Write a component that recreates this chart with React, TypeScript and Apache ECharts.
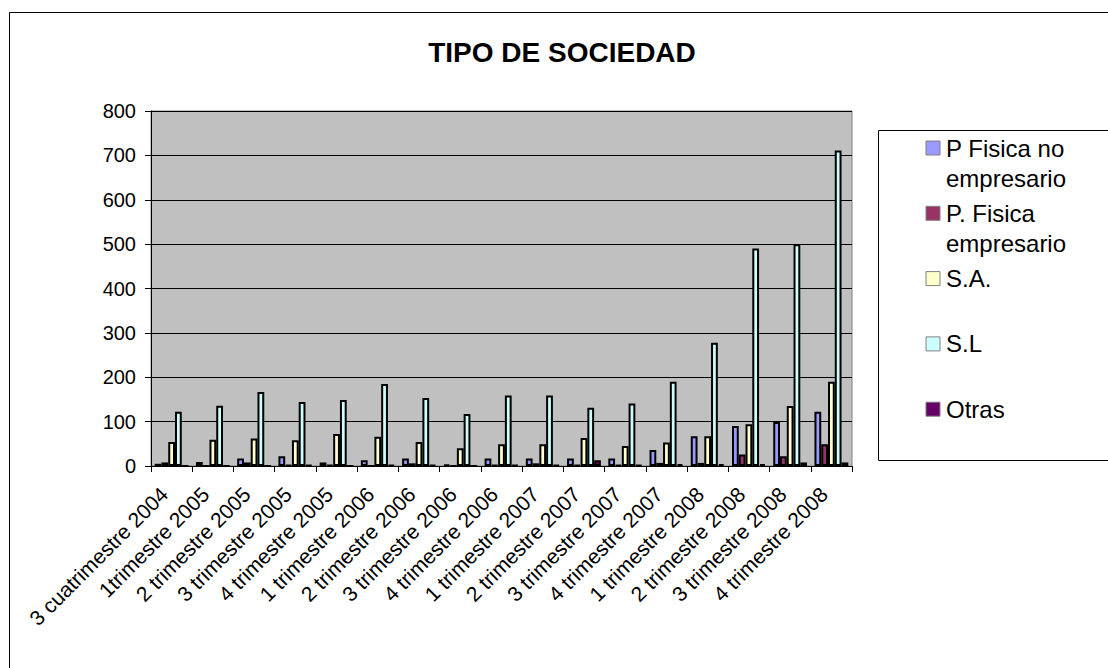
import React, { useEffect, useRef } from "react";
import * as echarts from "echarts";

const categories = [
  "3 cuatrimestre 2004",
  "1trimestre 2005",
  "2 trimestre 2005",
  "3 trimestre 2005",
  "4 trimestre 2005",
  "1 trimestre 2006",
  "2 trimestre 2006",
  "3 trimestre 2006",
  "4 trimestre 2006",
  "1 trimestre 2007",
  "2 trimestre 2007",
  "3 trimestre 2007",
  "4 trimestre 2007",
  "1 trimestre 2008",
  "2 trimestre 2008",
  "3 trimestre 2008",
  "4 trimestre 2008",
];

const pFisicaNoEmpresario = [5, 9, 17, 22, 8, 13, 17, 3, 17, 17, 17, 17, 36, 67, 90, 99, 122];
const pFisicaEmpresario = [8, 0, 8, 2, 2, 0, 6, 0, 2, 6, 2, 2, 7, 7, 26, 22, 49];
const sa = [54, 59, 62, 58, 72, 66, 54, 40, 49, 49, 63, 45, 53, 67, 94, 135, 190];
const sl = [122, 136, 167, 144, 149, 185, 153, 117, 159, 159, 131, 141, 190, 278, 490, 500, 711];
const otras = [0, 0, 0, 2, 0, 2, 2, 0, 2, 2, 13, 2, 4, 4, 4, 8, 8];

const seriesNames = ["P Fisica no\nempresario", "P. Fisica\nempresario", "S.A.", "S.L", "Otras"];
const seriesData = [pFisicaNoEmpresario, pFisicaEmpresario, sa, sl, otras];
const seriesColors = ["#9999FF", "#993366", "#FFFFCC", "#CCFFFF", "#660066"];
const yTicks = [0, 100, 200, 300, 400, 500, 600, 700, 800];

const FONT = "'Liberation Sans', Arial, sans-serif";

export default function App() {
  const ref = useRef<HTMLDivElement>(null);
  useEffect(() => {
    document.body.style.margin = "0";
    const chart = echarts.init(ref.current!, null, { renderer: "svg" });
    const legendGraphics: any[] = [];
    seriesNames.forEach((name, i) => {
      const y = 141 + i * 65.3;
      legendGraphics.push({
        type: "rect",
        shape: { x: 926, y: y, width: 14, height: 14 },
        style: { fill: seriesColors[i], stroke: "#808080", lineWidth: 1 },
        z: 10,
      });
      legendGraphics.push({
        type: "text",
        x: 946,
        y: y - 8,
        style: {
          text: name,
          font: `24px ${FONT}`,
          fill: "#000",
          lineHeight: 30,
          textVerticalAlign: "top",
        },
        z: 10,
      });
    });

    chart.setOption({
      animation: false,
      backgroundColor: "#ffffff",
      title: {
        text: "TIPO DE SOCIEDAD",
        left: 557,
        top: 33,
        textAlign: "center",
        textStyle: { fontFamily: FONT, fontSize: 28, fontWeight: "bold", color: "#000" },
      },
      grid: {
        left: 151,
        right: 256,
        top: 111,
        bottom: 202,
        show: true,
        backgroundColor: "#C0C0C0",
        borderColor: "#808080",
        borderWidth: 1,
      },
      xAxis: {
        type: "category",
        data: categories,
        axisLine: { lineStyle: { color: "#000", width: 1 } },
        axisTick: { show: true, length: 6, lineStyle: { color: "#000" } },
        axisLabel: {
          rotate: 45,
          interval: 0,
          margin: 32,
          verticalAlign: "bottom",
          fontFamily: FONT,
          fontSize: 21,
          color: "#000",
        },
      },
      yAxis: {
        type: "value",
        min: 0,
        max: 800,
        interval: 100,
        axisLine: { show: true, lineStyle: { color: "#000", width: 1 } },
        axisTick: { show: true, length: 6, lineStyle: { color: "#000" } },
        splitLine: { show: true, lineStyle: { color: "#000", width: 1 } },
        axisLabel: {
          margin: 15,
          fontFamily: FONT,
          fontSize: 20,
          color: "#000",
          formatter: (v: number) => (yTicks.includes(v) ? String(v) : ""),
        },
      },
      series: seriesNames.map((name, i) => ({
        name: name.replace("\n", " "),
        type: "bar",
        data: seriesData[i],
        barGap: "0%",
        barCategoryGap: "18%",
        itemStyle: { color: seriesColors[i], borderColor: "#000", borderWidth: 2 },
      })),
      graphic: [
        {
          type: "rect",
          shape: { x: 9.5, y: 12.5, width: 1200, height: 800 },
          style: { fill: "none", stroke: "#000", lineWidth: 1 },
          z: -1,
          silent: true,
        },
        {
          type: "rect",
          shape: { x: 878.5, y: 130.5, width: 400, height: 330 },
          style: { fill: "#fff", stroke: "#000", lineWidth: 1 },
          z: 5,
        },
        ...legendGraphics,
      ],
    });
    return () => chart.dispose();
  }, []);
  return <div ref={ref} style={{ width: 1108, height: 668 }} />;
}
